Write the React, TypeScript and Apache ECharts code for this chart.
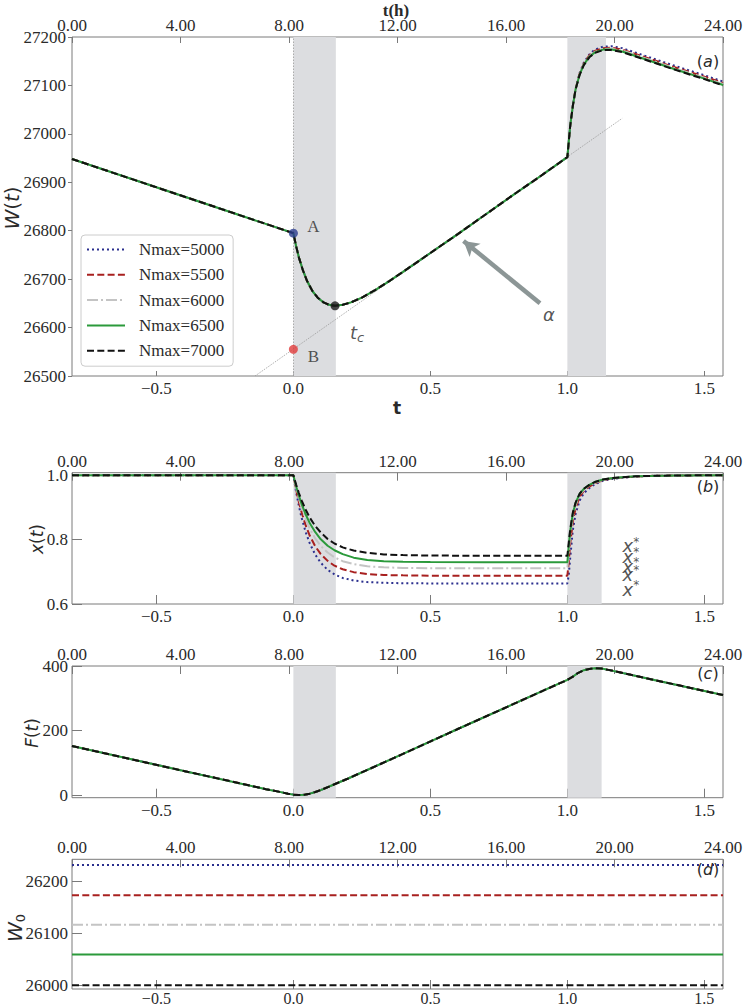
import React, { useEffect, useRef } from 'react';
import * as echarts from 'echarts';

// ---------- data ----------
const seriesNames = ['Nmax=5000', 'Nmax=5500', 'Nmax=6000', 'Nmax=6500', 'Nmax=7000'];

const xMin = -0.808;
const xMax = 1.568;
const bottomTicks = [-0.5, 0, 0.5, 1.0, 1.5];

// panel (a) W(t)
const tW = [-0.808, 0, 0.01, 0.02, 0.035, 0.05, 0.07, 0.09, 0.11, 0.13, 0.152, 0.18, 0.21, 0.25, 0.3, 0.35, 0.4, 0.5, 0.6, 0.7, 0.8, 0.9];
const wShared = [26948, 26795, 26768, 26745, 26718, 26696, 26675, 26661, 26652, 26647, 26645, 26647, 26652, 26662, 26678, 26696, 26715, 26754, 26793, 26833, 26873, 26912];
const tWTail = [1.0, 1.01, 1.02, 1.03, 1.045, 1.06, 1.08, 1.1, 1.13, 1.16, 1.2, 1.3, 1.4, 1.5, 1.568];
const wTail5000 = [26952, 27014, 27058, 27093, 27126, 27147, 27164, 27174, 27180, 27181, 27177, 27158, 27139, 27121, 27108];
const wTail5500 = [26952, 27015, 27058, 27093, 27125, 27145, 27162, 27171, 27177, 27178, 27174, 27155, 27136, 27118, 27105];
const wTail6000 = [26952, 27015, 27058, 27092, 27124, 27144, 27160, 27169, 27175, 27176, 27172, 27153, 27134, 27116, 27103];
const wTail6500 = [26952, 27015, 27058, 27092, 27123, 27143, 27159, 27168, 27174, 27174, 27170, 27151, 27132, 27114, 27101];
const wTail7000 = [26952, 27015, 27058, 27092, 27122, 27142, 27158, 27167, 27173, 27173, 27169, 27150, 27131, 27113, 27100];
const wTails = [wTail5000, wTail5500, wTail6000, wTail6500, wTail7000];

const tangentT = [-0.14, 1.2];
const tangentW = [26500, 27032];
const pointA = [0, 26795];
const pointB = [0, 26555];
const pointTc = [0.152, 26645];
const arrowFrom = [0.9, 26650];
const arrowTo = [0.621, 26779];

// panel (b) x(t)
const tX = [-0.808, 0, 0.01, 0.02, 0.03, 0.045, 0.06, 0.08, 0.1, 0.125, 0.15, 0.18, 0.22, 0.27, 0.33, 0.4, 0.5, 0.7, 1.0, 1.005, 1.01, 1.02, 1.03, 1.045, 1.06, 1.08, 1.1, 1.13, 1.16, 1.2, 1.25, 1.3, 1.4, 1.568];
const x5000 = [1, 1, 0.948, 0.905, 0.868, 0.823, 0.788, 0.753, 0.728, 0.706, 0.692, 0.681, 0.673, 0.668, 0.666, 0.6644, 0.664, 0.664, 0.664, 0.69, 0.74, 0.83, 0.88, 0.922, 0.944, 0.96, 0.972, 0.983, 0.988, 0.992, 0.996, 0.998, 0.9995, 1.0];
const x5500 = [1, 1, 0.956, 0.917, 0.885, 0.844, 0.812, 0.779, 0.755, 0.734, 0.719, 0.708, 0.699, 0.693, 0.69, 0.689, 0.688, 0.688, 0.688, 0.73, 0.785, 0.856, 0.898, 0.933, 0.951, 0.965, 0.975, 0.985, 0.99, 0.993, 0.996, 0.998, 0.9995, 1.0];
const x6000 = [1, 1, 0.962, 0.928, 0.899, 0.863, 0.834, 0.803, 0.78, 0.76, 0.745, 0.733, 0.724, 0.717, 0.714, 0.712, 0.7113, 0.711, 0.711, 0.76, 0.81, 0.872, 0.907, 0.939, 0.955, 0.968, 0.977, 0.986, 0.99, 0.994, 0.997, 0.998, 0.9995, 1.0];
const x6500 = [1, 1, 0.966, 0.937, 0.911, 0.878, 0.851, 0.823, 0.801, 0.781, 0.767, 0.755, 0.744, 0.737, 0.733, 0.731, 0.7303, 0.73, 0.73, 0.78, 0.825, 0.882, 0.914, 0.943, 0.958, 0.97, 0.979, 0.987, 0.991, 0.994, 0.997, 0.998, 0.9995, 1.0];
const x7000 = [1, 1, 0.971, 0.945, 0.922, 0.893, 0.868, 0.842, 0.822, 0.802, 0.788, 0.776, 0.766, 0.759, 0.754, 0.752, 0.7505, 0.75, 0.75, 0.79, 0.83, 0.884, 0.915, 0.943, 0.958, 0.97, 0.979, 0.987, 0.991, 0.994, 0.997, 0.998, 0.9995, 1.0];
const xSeries = [x5000, x5500, x6000, x6500, x7000];
const xStarT = 1.232;
const xStarLevels = [0.7815, 0.749, 0.718, 0.692, 0.646];

// panel (c) F(t)
const tF = [-0.808, -0.4, -0.1, -0.05, -0.02, 0, 0.02, 0.04, 0.06, 0.08, 0.1, 0.15, 0.2, 0.4, 0.6, 0.8, 0.973, 1.0, 1.02, 1.04, 1.06, 1.08, 1.1, 1.125, 1.15, 1.3, 1.45, 1.568];
const fShared = [152.5, 75.4, 18.9, 10.5, 5, 2, 0.5, 1.5, 5, 10, 16, 34, 52, 128, 205, 281, 347, 357, 367, 379, 387, 391, 393, 392, 388, 360, 332, 310];

// panel (d) W0
const w0Values = [26232, 26174, 26117, 26060, 26001];

// ---------- styles ----------
const colors = ['#2b2f8e', '#a8201f', '#c4c4c4', '#2b9a3b', '#111111'];
const dashes: any[] = [[2, 3], [7, 3.3], [11, 3, 2, 3], 'solid', [7, 3.3]];
const serif = 'Liberation Serif';
const sans = 'DejaVu Sans';
const frame = '#7a7a7a';
const txt = '#2a2a2a';

const zip = (a: number[], b: number[]) => a.map((v, i) => [v, b[i]]);
const fmtBottom = (v: number) => (v < 0 ? '\u2212' : '') + Math.abs(v).toFixed(1);

const grids = [
  { left: 72, top: 37, width: 651, height: 339 },
  { left: 72, top: 472.7, width: 651, height: 131.3 },
  { left: 72, top: 666, width: 651, height: 131.7 },
  { left: 72, top: 859.3, width: 651, height: 129.7 },
];

function bottomAxis(gi: number, len: number, margin = 4, size = 17) {
  return {
    type: 'value', gridIndex: gi, position: 'bottom', min: xMin, max: xMax,
    axisLine: { show: false, onZero: false }, splitLine: { show: false },
    axisTick: { show: true, inside: true, length: len, customValues: bottomTicks, lineStyle: { color: frame, width: 1 } },
    axisLabel: { customValues: bottomTicks, margin, fontFamily: serif, fontSize: size, lineHeight: size, color: txt, formatter: fmtBottom },
  };
}
function topAxis(gi: number, len: number) {
  return {
    type: 'value', gridIndex: gi, position: 'top', min: 0, max: 24, interval: 4,
    axisLine: { show: false, onZero: false }, splitLine: { show: false },
    axisTick: { show: true, inside: true, length: len, lineStyle: { color: frame, width: 1 } },
    axisLabel: { margin: 3, fontFamily: serif, fontSize: 17, color: txt, formatter: (v: number) => v.toFixed(2), showMinLabel: true, showMaxLabel: true },
  };
}
function yAxisCfg(gi: number, min: number, max: number, ticks: number[], fmt: (v: number) => string, inside: boolean, len: number) {
  return {
    type: 'value', gridIndex: gi, position: 'left', min, max,
    axisLine: { show: false, onZero: false }, splitLine: { show: false },
    axisTick: { show: true, inside, length: len, customValues: ticks, lineStyle: { color: frame, width: 1 } },
    axisLabel: { customValues: ticks, margin: inside ? 4 : 6, fontFamily: serif, fontSize: 17, color: txt, formatter: fmt },
  };
}

function shadeSeries(xi: number, yi: number, bands: number[][], vline: boolean) {
  const s: any = {
    type: 'line', xAxisIndex: xi, yAxisIndex: yi, data: [], z: 1, silent: true,
    markArea: {
      silent: true, itemStyle: { color: '#dcdde0' },
      data: bands.map((b) => [{ xAxis: b[0] }, { xAxis: b[1] }]),
    },
  };
  if (vline) {
    s.markLine = {
      silent: true, symbol: ['none', 'none'], label: { show: false },
      lineStyle: { color: '#9a9a9a', width: 0.8, type: [1.5, 1.5] },
      data: [{ xAxis: 0 }],
    };
  }
  return s;
}

function lineSeries(i: number, xi: number, yi: number, data: number[][]) {
  return {
    name: seriesNames[i], type: 'line', xAxisIndex: xi, yAxisIndex: yi, data,
    symbol: 'none', showSymbol: false, z: 3 + i,
    lineStyle: { color: colors[i], width: 2, type: dashes[i] },
    itemStyle: { color: colors[i] },
  };
}

const titleRich = {
  i: { fontFamily: sans, fontStyle: 'italic', fontSize: 17, fill: txt, lineHeight: 22, verticalAlign: 'middle' },
  n: { fontFamily: sans, fontSize: 17, fill: txt, lineHeight: 22, verticalAlign: 'middle' },
  I: { fontFamily: sans, fontStyle: 'italic', fontSize: 20, fill: txt, lineHeight: 24, verticalAlign: 'middle' },
  N: { fontFamily: sans, fontSize: 20, fill: txt, lineHeight: 24, verticalAlign: 'middle' },
  s: { fontFamily: sans, fontSize: 13, fill: txt, lineHeight: 10, verticalAlign: 'bottom' },
};
const yTitle = (text: string, x: number, y: number) => ({
  type: 'text', x, y, rotation: Math.PI / 2, z: 100,
  style: { text, rich: titleRich, align: 'center', verticalAlign: 'middle' },
});

function buildOption() {
  const series: any[] = [];
  for (let i = 0; i < 5; i++) series.push(lineSeries(i, 0, 0, zip([...tW, ...tWTail], [...wShared, ...wTails[i]])));
  for (let i = 0; i < 5; i++) series.push(lineSeries(i, 2, 1, zip(tX, xSeries[i])));
  for (let i = 0; i < 5; i++) series.push(lineSeries(i, 4, 2, zip(tF, fShared)));
  for (let i = 0; i < 5; i++) series.push(lineSeries(i, 6, 3, zip([xMin, xMax], [w0Values[i], w0Values[i]])));

  series.push(shadeSeries(0, 0, [[0, 0.155], [1.0, 1.141]], true));
  series.push(shadeSeries(2, 1, [[0, 0.155], [1.0, 1.125]], false));
  series.push(shadeSeries(4, 2, [[0, 0.155], [1.0, 1.125]], false));

  series.push({
    type: 'line', xAxisIndex: 0, yAxisIndex: 0, data: zip(tangentT, tangentW), symbol: 'none', z: 2, silent: true,
    lineStyle: { color: '#9a9a9a', width: 0.8, type: [1.5, 1.2] },
  });
  const marker = (p: number[], color: string, label: any) => ({
    type: 'scatter', xAxisIndex: 0, yAxisIndex: 0, data: [p], symbolSize: 9, z: 10, silent: true,
    itemStyle: { color }, label,
  });
  series.push(marker(pointA, '#2c3d8f', { show: true, position: 'inside', offset: [20, -7], formatter: 'A', fontFamily: serif, fontSize: 17, color: txt }));
  series.push(marker(pointB, '#e03b3b', { show: true, position: 'inside', offset: [20, 7], formatter: 'B', fontFamily: serif, fontSize: 17, color: txt }));
  series.push(marker(pointTc, '#1a1a1a', {
    show: true, position: 'inside', offset: [22, 27], formatter: '{i|t}{s|c}',
    rich: {
      i: { fontFamily: sans, fontStyle: 'italic', fontSize: 18, color: txt, lineHeight: 22, verticalAlign: 'middle' },
      s: { fontFamily: sans, fontStyle: 'italic', fontSize: 13, color: txt, lineHeight: 8, verticalAlign: 'bottom' },
    },
  }));
  series.push({
    type: 'scatter', xAxisIndex: 0, yAxisIndex: 0, data: [arrowFrom], symbolSize: 1, z: 9, silent: true,
    itemStyle: { color: 'rgba(0,0,0,0)' },
    label: { show: true, position: 'inside', offset: [9, 11], formatter: '\u03b1', fontFamily: sans, fontStyle: 'italic', fontSize: 18, color: txt },
    markLine: {
      silent: true, symbol: ['none', 'arrow'], symbolSize: [13, 15], label: { show: false },
      lineStyle: { color: '#8c9696', width: 4.5, type: 'solid' },
      data: [[{ coord: arrowFrom }, { coord: arrowTo }]],
    },
  });
  series.push({
    type: 'scatter', xAxisIndex: 2, yAxisIndex: 1, data: xStarLevels.map((v) => [xStarT, v]), symbolSize: 1, z: 9, silent: true,
    itemStyle: { color: 'rgba(0,0,0,0)' },
    label: {
      show: true, position: 'inside', formatter: '{x|x}{s|*}',
      rich: {
        x: { fontFamily: sans, fontStyle: 'italic', fontSize: 18, color: txt, lineHeight: 20, verticalAlign: 'middle' },
        s: { fontFamily: sans, fontSize: 12, color: txt, lineHeight: 8, verticalAlign: 'top' },
      },
    },
  });

  const panelLabel = (letter: string, y: number) => ({
    type: 'text', x: 708, y, z: 100,
    style: {
      text: '{p|(}{i|' + letter + '}{p|)}', align: 'center', verticalAlign: 'middle',
      rich: {
        p: { fontFamily: sans, fontSize: 16, fill: txt },
        i: { fontFamily: sans, fontStyle: 'italic', fontSize: 16, fill: txt },
      },
    },
  });

  return {
    animation: false,
    backgroundColor: '#ffffff',
    grid: grids.map((g) => ({ ...g, show: true, borderColor: frame, borderWidth: 1, backgroundColor: 'transparent', containLabel: false, outerBoundsMode: 'none' })),
    xAxis: [bottomAxis(0, 5), topAxis(0, 6), bottomAxis(1, 9), topAxis(1, 8), bottomAxis(2, 9), topAxis(2, 8), bottomAxis(3, 9, 1, 16), topAxis(3, 8)],
    yAxis: [
      yAxisCfg(0, 26500, 27200, [26500, 26600, 26700, 26800, 26900, 27000, 27100, 27200], (v) => String(v), false, 4),
      yAxisCfg(1, 0.6, 1.008, [0.6, 0.8, 1.0], (v) => v.toFixed(1), true, 10),
      yAxisCfg(2, -7.5, 400, [0, 200, 400], (v) => String(v), true, 10),
      yAxisCfg(3, 25993.6, 26243, [26000, 26100, 26200], (v) => String(v), true, 10),
    ],
    legend: {
      data: seriesNames, orient: 'vertical', left: 81, top: 235,
      padding: [6, 9, 7, 5], itemGap: 8.3, itemWidth: 38, itemHeight: 14,
      backgroundColor: '#ffffff', borderColor: '#cccccc', borderWidth: 1, borderRadius: 4,
      itemStyle: { opacity: 0, borderWidth: 0 },
      textStyle: { fontFamily: serif, fontSize: 17, color: txt, padding: [0, 0, 0, 9] },
      selectedMode: false, z: 20,
    },
    graphic: [
      panelLabel('a', 61), panelLabel('b', 486), panelLabel('c', 673), panelLabel('d', 869),
      yTitle('{I|W}{N|(}{I|t}{N|)}', 12, 208),
      yTitle('{i|x}{n|(}{i|t}{n|)}', 37, 539),
      yTitle('{i|F}{n|(}{i|t}{n|)}', 32, 733),
      yTitle('{I|W}{s|0}', 15, 928),
      {
        type: 'text', x: 396, y: 10, z: 100,
        style: { text: 't(h)', fontFamily: serif, fontWeight: 'bold', fontSize: 17, fill: txt, align: 'center', verticalAlign: 'middle' },
      },
      {
        type: 'text', x: 397, y: 408, z: 100,
        style: { text: 't', fontFamily: sans, fontWeight: 'bold', fontSize: 17, fill: txt, align: 'center', verticalAlign: 'middle' },
      },
    ],
    series,
  };
}

export default function App() {
  const ref = useRef<HTMLDivElement>(null);
  useEffect(() => {
    if (!ref.current) return;
    const chart = echarts.init(ref.current, null, { renderer: 'svg' });
    chart.setOption(buildOption() as any);
    return () => chart.dispose();
  }, []);
  return <div ref={ref} style={{ position: 'fixed', left: 0, top: 0, width: 746, height: 1007, background: '#fff' }} />;
}
